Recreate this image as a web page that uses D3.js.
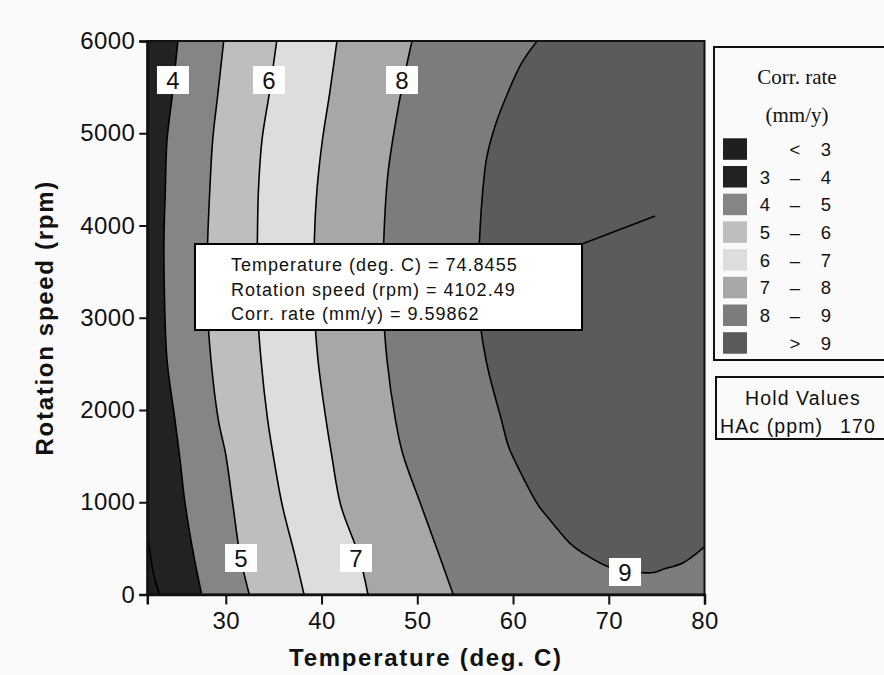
<!DOCTYPE html>
<html>
<head>
<meta charset="utf-8">
<script src="https://cdn.jsdelivr.net/npm/d3@7"></script>
<style>
  body { margin: 0; background: #fafafa; }
  svg { display: block; }
  text { font-family: "Liberation Sans", Arial, sans-serif; fill: #111; }
</style>
</head>
<body>
<svg id="chart" width="884" height="675"></svg>
<script>
// ---- data: corrosion rate contour lines as (temperature °C, rotation rpm) points ----
const tempDomain = [21.8, 80];
const rpmDomain = [0, 6000];
const xTicks = [30, 40, 50, 60, 70, 80];
const yTicks = [0, 1000, 2000, 3000, 4000, 5000, 6000];

const levels = [3, 4, 5, 6, 7, 8, 9];

const line3 = [[21.8, 700], [22.1, 450], [22.5, 200], [23.1, 0]];
const line4 = [[24.99, 6000], [24.44, 5436], [23.86, 4927], [23.68, 4385], [23.54, 3843], [23.60, 3192],
               [23.86, 2542], [24.69, 1892], [25.22, 1458], [25.74, 992], [26.60, 450], [27.48, 0]];
const line5 = [[29.78, 6000], [29.18, 5436], [28.63, 4927], [28.33, 4385], [28.11, 3843], [28.04, 3192],
               [28.45, 2542], [29.22, 1892], [29.98, 1523], [30.74, 970], [31.50, 422], [32.45, 0]];
const line6 = [[35.32, 6000], [34.55, 5436], [33.78, 4927], [33.41, 4385], [33.30, 3843], [33.26, 3192],
               [33.68, 2542], [34.37, 1892], [34.93, 1523], [35.89, 970], [37.22, 422], [38.17, 0]];
const line7 = [[41.61, 6000], [40.85, 5436], [40.09, 4927], [39.52, 4385], [39.25, 3843], [39.21, 3192],
               [39.63, 2542], [40.47, 1892], [41.04, 1523], [42.00, 970], [43.90, 422], [44.85, 0]];
const line8 = [[49.45, 6000], [48.49, 5542], [47.72, 5108], [46.94, 4566], [46.50, 3843], [46.42, 3192],
               [46.84, 2542], [47.72, 1892], [48.49, 1523], [50.39, 970], [52.30, 422], [53.75, 0]];
const line9 = [[62.52, 6000], [60.88, 5758], [59.36, 5415], [58.22, 5108], [57.27, 4746], [56.88, 4421],
               [56.50, 3843], [56.34, 3192], [57.18, 2542], [58.79, 1892], [59.55, 1599], [60.70, 1341],
               [62.60, 973], [63.86, 808], [66.13, 537], [67.34, 447], [69.95, 301], [72.22, 255],
               [74.48, 236], [75.70, 273], [77.78, 345], [79.18, 447], [80, 520]];

// labelled contour values and where their tags sit
const lineLabels = [
  { level: 4, temp: 24.48, rpm: 5577 },
  { level: 6, temp: 34.51, rpm: 5577 },
  { level: 8, temp: 48.40, rpm: 5577 },
  { level: 5, temp: 31.59, rpm: 396 },
  { level: 7, temp: 43.60, rpm: 396 },
  { level: 9, temp: 71.70, rpm: 244 }
];

// legend classes
const legendLow = ["", "3", "4", "5", "6", "7", "8", ""];
const legendSep = ["<", "–", "–", "–", "–", "–", "–", ">"];
const legendHigh = ["3", "4", "5", "6", "7", "8", "9", "9"];

// crosshair readout
const probe = { temp: 74.8455, rpm: 4102.49, rate: 9.59862 };
const holdName = "HAc (ppm)";
const holdValue = 170;

// ---- styles ----
const bandColors = ["#1f1f1f", "#222222", "#858585", "#bebebe", "#dddddd", "#a7a7a7", "#7c7c7c", "#5b5b5b"];

// ---- layout ----
const plot = { left: 147.3, right: 704.5, top: 41, bottom: 594.5 };
const svg = d3.select("#chart");

const x = d3.scaleLinear().domain(tempDomain).range([plot.left, plot.right]);
const y = d3.scaleLinear().domain(rpmDomain).range([plot.bottom, plot.top]);

const lineGen = d3.line()
  .x(d => x(d[0]))
  .y(d => y(d[1]))
  .curve(d3.curveCatmullRom.alpha(0.5));

svg.append("defs").append("clipPath").attr("id", "plot-clip")
  .append("rect")
  .attr("x", plot.left).attr("y", plot.top)
  .attr("width", plot.right - plot.left).attr("height", plot.bottom - plot.top);

const area = svg.append("g").attr("clip-path", "url(#plot-clip)");

// base band (< 3)
area.append("rect")
  .attr("x", plot.left).attr("y", plot.top)
  .attr("width", plot.right - plot.left).attr("height", plot.bottom - plot.top)
  .attr("fill", bandColors[0]);

// region at or above each level, painted low to high
const lines = [line3, line4, line5, line6, line7, line8, line9];
const corners = [
  [[80, 0], [80, 6000], [21.8, 6000]],
  [[80, 0], [80, 6000]],
  [[80, 0], [80, 6000]],
  [[80, 0], [80, 6000]],
  [[80, 0], [80, 6000]],
  [[80, 0], [80, 6000]],
  [[80, 6000]]
];
const regionPath = (pts, extra) =>
  lineGen(pts) + extra.map(c => `L${x(c[0])},${y(c[1])}`).join("") + "Z";

lines.forEach((pts, i) => {
  area.append("path")
    .attr("d", regionPath(pts, corners[i]))
    .attr("fill", bandColors[i + 1]);
});

// contour lines
lines.forEach(pts => {
  area.append("path")
    .attr("d", lineGen(pts))
    .attr("fill", "none")
    .attr("stroke", "#000")
    .attr("stroke-width", 1.6);
});

// contour value tags
const tags = area.selectAll("g.tag").data(lineLabels).join("g")
  .attr("class", "tag")
  .attr("transform", d => `translate(${x(d.temp)},${y(d.rpm)})`);
tags.append("rect")
  .attr("x", -16).attr("y", -14).attr("width", 32).attr("height", 28)
  .attr("fill", "#fff");
tags.append("text")
  .attr("text-anchor", "middle").attr("dy", "0.36em")
  .style("font-size", "24px")
  .text(d => d.level);

// plot frame
svg.append("rect")
  .attr("x", plot.left).attr("y", plot.top)
  .attr("width", plot.right - plot.left).attr("height", plot.bottom - plot.top)
  .attr("fill", "none").attr("stroke", "#111").attr("stroke-width", 2);

// axes
const xAxis = svg.append("g")
  .attr("transform", `translate(0,${plot.bottom})`)
  .call(d3.axisBottom(x).tickValues(xTicks).tickSize(10).tickPadding(7).tickFormat(d3.format("d")));
const yAxis = svg.append("g")
  .attr("transform", `translate(${plot.left},0)`)
  .call(d3.axisLeft(y).tickValues(yTicks).tickSize(8).tickPadding(4).tickFormat(d3.format("d")));
[xAxis, yAxis].forEach(a => {
  a.select(".domain").attr("stroke", "#111").attr("stroke-width", 2.5);
  a.selectAll(".tick line").attr("stroke", "#111").attr("stroke-width", 2);
  a.selectAll(".tick text")
    .style("font-family", "'Liberation Sans', Arial, sans-serif")
    .style("font-size", "24px")
    .style("letter-spacing", "0.4px")
    .attr("fill", "#1a1a1a");
});

// axis titles
svg.append("text")
  .attr("x", (plot.left + plot.right) / 2).attr("y", 666)
  .attr("text-anchor", "middle")
  .style("font-size", "24px").style("font-weight", "bold").style("letter-spacing", "1.7px")
  .text("Temperature (deg. C)");
svg.append("text")
  .attr("transform", `translate(53,${(plot.top + plot.bottom) / 2}) rotate(-90)`)
  .attr("text-anchor", "middle")
  .style("font-size", "24px").style("font-weight", "bold").style("letter-spacing", "1.7px")
  .text("Rotation speed (rpm)");

// crosshair readout box with leader to the probed point
const box = { x: 195, y: 244, w: 387, h: 86 };
svg.append("line")
  .attr("x1", box.x + box.w).attr("y1", box.y)
  .attr("x2", x(probe.temp)).attr("y2", y(probe.rpm))
  .attr("stroke", "#000").attr("stroke-width", 1.6);
svg.append("rect")
  .attr("x", box.x).attr("y", box.y).attr("width", box.w).attr("height", box.h)
  .attr("fill", "#fff").attr("stroke", "#000").attr("stroke-width", 2);
const readout = [
  `Temperature (deg. C) = ${probe.temp}`,
  `Rotation speed (rpm) = ${probe.rpm}`,
  `Corr. rate (mm/y) = ${probe.rate}`
];
svg.selectAll("text.readout").data(readout).join("text")
  .attr("class", "readout")
  .attr("x", box.x + 36).attr("y", (d, i) => box.y + 27 + i * 24.5)
  .style("font-size", "18px").style("letter-spacing", "1px")
  .text(d => d);

// legend
const leg = { x: 714, y: 47, w: 190, h: 313 };
svg.append("rect")
  .attr("x", leg.x).attr("y", leg.y).attr("width", leg.w).attr("height", leg.h)
  .attr("fill", "none").attr("stroke", "#111").attr("stroke-width", 2);
svg.append("text")
  .attr("x", 797).attr("y", 84).attr("text-anchor", "middle")
  .style("font-family", "'Liberation Serif', 'Times New Roman', serif").style("font-size", "21px")
  .text("Corr. rate");
svg.append("text")
  .attr("x", 797).attr("y", 122).attr("text-anchor", "middle")
  .style("font-family", "'Liberation Serif', 'Times New Roman', serif").style("font-size", "21px")
  .text("(mm/y)");

const rows = svg.selectAll("g.legrow").data(bandColors).join("g")
  .attr("class", "legrow")
  .attr("transform", (d, i) => `translate(723,${138.3 + i * 27.7})`);
rows.append("rect").attr("width", 24).attr("height", 21.5).attr("fill", d => d);
rows.append("text").attr("x", 42).attr("y", 17.5).attr("text-anchor", "middle")
  .style("font-size", "18.5px").text((d, i) => legendLow[i]);
rows.append("text").attr("x", 72).attr("y", 17.5).attr("text-anchor", "middle")
  .style("font-size", "18.5px").text((d, i) => legendSep[i]);
rows.append("text").attr("x", 103).attr("y", 17.5).attr("text-anchor", "middle")
  .style("font-size", "18.5px").text((d, i) => legendHigh[i]);

// held factor value
svg.append("rect")
  .attr("x", 716).attr("y", 377).attr("width", 190).attr("height", 62)
  .attr("fill", "none").attr("stroke", "#111").attr("stroke-width", 2);
svg.append("text")
  .attr("x", 803).attr("y", 405).attr("text-anchor", "middle")
  .style("font-size", "19.5px").style("letter-spacing", "1.1px")
  .text("Hold Values");
svg.append("text")
  .attr("x", 720).attr("y", 433)
  .style("font-size", "19.5px").style("letter-spacing", "1.1px")
  .text(holdName);
svg.append("text")
  .attr("x", 840).attr("y", 433)
  .style("font-size", "19.5px").style("letter-spacing", "1.1px")
  .text(holdValue);
</script>
</body>
</html>
